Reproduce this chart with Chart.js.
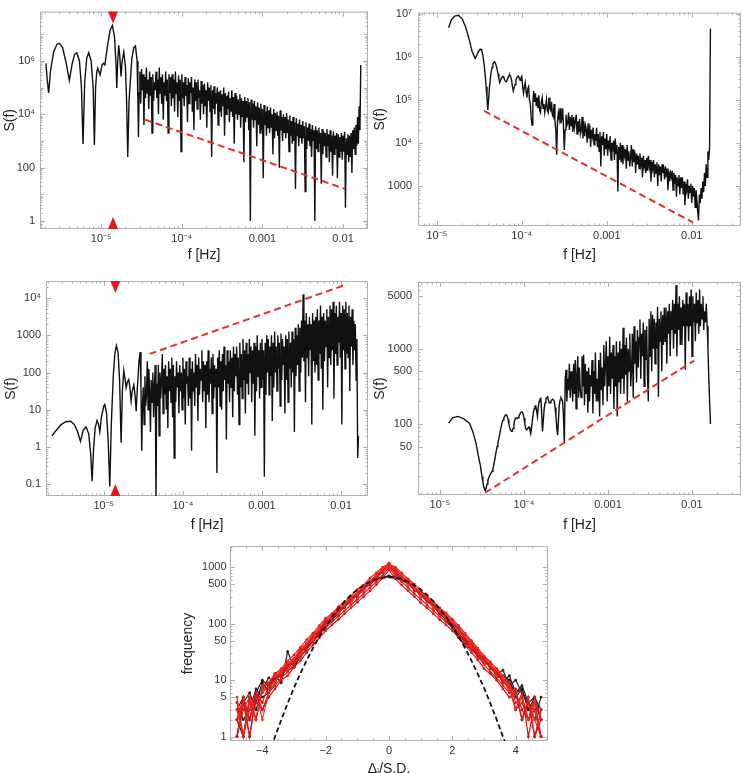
<!DOCTYPE html>
<html lang="en">
<head>
  <meta charset="UTF-8" />
  <title>Power spectra and increment distribution</title>
  <script src="https://cdn.jsdelivr.net/npm/chart.js"></script>
  <style>
    body { margin: 0; background: #fff; width: 743px; height: 773px; overflow: hidden; position: relative; }
    canvas { position: absolute; }
  </style>
</head>
<body>
  <canvas id="c1" width="372" height="268" style="left:0;top:0"></canvas>
  <canvas id="c2" width="371" height="268" style="left:372px;top:0"></canvas>
  <canvas id="c3" width="372" height="268" style="left:0;top:268px"></canvas>
  <canvas id="c4" width="371" height="268" style="left:372px;top:268px"></canvas>
  <canvas id="c5" width="380" height="245" style="left:180px;top:536px"></canvas>

  <script>
    // ---- periodogram data (log10 values) ----
    // shared frequency grid for the dense part of every spectrum (log10 f)
    const gridLogF = [
      -4.52,-4.51,-4.50,-4.49,-4.48,-4.47,-4.46,-4.45,-4.44,-4.43,
      -4.42,-4.41,-4.40,-4.39,-4.38,-4.37,-4.36,-4.35,-4.34,-4.33,
      -4.32,-4.31,-4.30,-4.29,-4.28,-4.27,-4.26,-4.25,-4.24,-4.23,
      -4.22,-4.21,-4.20,-4.19,-4.18,-4.17,-4.16,-4.15,-4.14,-4.13,
      -4.12,-4.11,-4.10,-4.09,-4.08,-4.07,-4.06,-4.05,-4.04,-4.03,
      -4.02,-4.01,-4.00,-3.99,-3.98,-3.97,-3.96,-3.95,-3.94,-3.93,
      -3.92,-3.91,-3.90,-3.89,-3.88,-3.87,-3.86,-3.85,-3.84,-3.83,
      -3.82,-3.81,-3.80,-3.79,-3.78,-3.77,-3.76,-3.75,-3.74,-3.73,
      -3.72,-3.71,-3.70,-3.69,-3.68,-3.67,-3.66,-3.65,-3.64,-3.63,
      -3.62,-3.61,-3.60,-3.59,-3.58,-3.57,-3.56,-3.55,-3.54,-3.53,
      -3.52,-3.51,-3.50,-3.49,-3.48,-3.47,-3.46,-3.45,-3.44,-3.43,
      -3.42,-3.41,-3.40,-3.39,-3.38,-3.37,-3.36,-3.35,-3.34,-3.33,
      -3.32,-3.31,-3.30,-3.29,-3.28,-3.27,-3.26,-3.25,-3.24,-3.23,
      -3.22,-3.21,-3.20,-3.19,-3.18,-3.17,-3.16,-3.15,-3.14,-3.13,
      -3.12,-3.11,-3.10,-3.09,-3.08,-3.07,-3.06,-3.05,-3.04,-3.03,
      -3.02,-3.01,-3.00,-2.99,-2.98,-2.97,-2.96,-2.95,-2.94,-2.93,
      -2.92,-2.91,-2.90,-2.89,-2.88,-2.87,-2.86,-2.85,-2.84,-2.83,
      -2.82,-2.81,-2.80,-2.79,-2.78,-2.77,-2.76,-2.75,-2.74,-2.73,
      -2.72,-2.71,-2.70,-2.69,-2.68,-2.67,-2.66,-2.65,-2.64,-2.63,
      -2.62,-2.61,-2.60,-2.59,-2.58,-2.57,-2.56,-2.55,-2.54,-2.53,
      -2.52,-2.51,-2.50,-2.49,-2.48,-2.47,-2.46,-2.45,-2.44,-2.43,
      -2.42,-2.41,-2.40,-2.39,-2.38,-2.37,-2.36,-2.35,-2.34,-2.33,
      -2.32,-2.31,-2.30,-2.29,-2.28,-2.27,-2.26,-2.25,-2.24,-2.23,
      -2.22,-2.21,-2.20,-2.19,-2.18,-2.17,-2.16,-2.15,-2.14,-2.13,
      -2.12,-2.11,-2.10,-2.09,-2.08,-2.07,-2.06,-2.05,-2.04,-2.03,
      -2.02,-2.01,-2.00,-1.99,-1.98,-1.97,-1.96,-1.95,-1.94,-1.93,
      -1.92,-1.91,-1.90,-1.89,-1.88,-1.87,-1.86,-1.85,-1.84,-1.83,
      -1.82,-1.81,-1.80,-1.79,-1.78
    ];

    // panel 1 (top left)
    const p1HeadLogF = [
      -5.686,-5.67,-5.652,-5.63,-5.59,-5.55,-5.519,-5.48,-5.44,-5.395,
      -5.36,-5.33,-5.304,-5.27,-5.245,-5.226,-5.205,-5.18,-5.155,-5.125,
      -5.10,-5.085,-5.07,-5.055,-5.043,-5.015,-4.99,-4.973,-4.955,-4.92,
      -4.89,-4.861,-4.835,-4.815,-4.807,-4.795,-4.783,-4.77,-4.754,-4.74,
      -4.72,-4.70,-4.685,-4.671,-4.655,-4.62,-4.595,-4.575,-4.555,-4.545,
      -4.538,-4.53
    ];
    const p1HeadLogS = [
      5.91,5.3,4.80,5.6,6.35,6.62,6.66,6.5,6.0,5.27,
      5.9,6.25,6.31,6.0,5.0,2.89,5.2,6.1,6.31,6.0,
      5.0,2.85,5.0,5.6,5.73,5.48,5.85,5.91,5.85,6.6,
      7.15,7.33,6.9,5.8,4.99,6.0,6.59,6.2,5.42,6.0,
      6.34,5.8,4.5,2.40,4.5,6.1,6.5,6.56,6.0,4.5,
      3.14,4.8
    ];
    const p1TailLogS = [
      5.6,4.4,5.7,4.9,5.5,3.6,5.4,4.6,5.75,4.8,
      5.3,4.2,5.6,4.7,5.4,3.3,5.5,4.5,5.2,4.9,
      5.6,4.6,5.3,4.0,5.75,4.8,5.4,4.4,5.5,3.8,
      5.2,4.7,5.6,4.5,5.3,3.3,5.5,4.8,5.4,4.3,
      5.5,4.6,5.3,4.1,5.6,4.8,5.2,3.9,5.45,4.5,
      5.3,2.6,5.5,4.6,5.2,4.3,5.4,4.7,5.1,3.7,
      5.35,4.4,5.2,4.8,5.4,4.1,5.0,3.4,5.3,4.5,
      5.2,4.2,5.3,4.6,4.9,3.8,5.25,4.4,5.1,4.0,
      5.15,4.3,4.9,3.5,5.2,4.5,5.0,4.1,5.1,2.4,
      4.9,4.2,5.05,4.0,4.8,4.4,5.0,3.6,4.85,4.1,
      4.9,3.9,4.75,4.3,5.0,3.2,4.8,4.0,4.7,4.2,
      4.85,3.7,4.6,4.1,4.9,3.9,4.65,2.9,4.8,4.0,
      4.7,3.8,4.55,4.0,4.75,3.5,4.6,3.9,4.5,2.2,
      4.65,3.7,4.5,3.9,4.6,3.4,4.45,0.0,4.55,3.8,
      4.4,3.5,4.5,3.8,4.3,2.8,4.45,3.6,4.25,3.3,
      4.4,3.4,4.2,1.6,4.35,3.6,4.1,3.2,4.3,3.5,
      4.15,3.3,4.25,3.5,4.0,2.5,4.2,3.1,4.05,3.4,
      4.1,3.2,3.95,2.0,4.15,3.4,3.9,3.0,4.0,3.3,
      3.9,3.1,4.05,3.3,3.8,2.6,3.95,3.2,3.75,2.9,
      3.9,3.0,3.7,1.2,3.85,3.2,3.65,2.8,3.8,3.1,
      3.6,2.9,3.75,3.1,3.55,1.1,3.7,2.7,3.5,3.0,
      3.65,2.8,3.45,2.4,3.6,3.0,3.4,0.0,3.55,2.7,
      3.4,2.6,3.5,2.9,3.3,1.4,3.45,2.5,3.35,2.8,
      3.3,2.4,3.45,2.8,3.25,2.2,3.4,2.6,3.2,1.7,
      3.35,2.5,3.2,2.7,3.3,1.6,3.25,2.4,3.15,2.6,
      3.3,2.3,3.2,2.6,3.35,0.5,3.1,2.5,3.25,2.2,
      3.2,2.4,3.3,1.8,3.4,2.7,3.5,2.5,3.6,2.8,
      3.9,2.9,4.3,3.4,5.85
    ];
    const p1FitF = [3.5e-5, 0.0106];
    const p1FitS = [6300, 16];

    // panel 2 (top right)
    const p2HeadLogF = [-4.862,-4.83,-4.79,-4.745,-4.70,-4.66,-4.62,-4.585,-4.549];
    const p2HeadLogS = [6.67,6.85,6.94,6.96,6.87,6.68,6.4,6.12,5.96];
    const p2TailLogS = [
      6.07,6.12,6.15,6.17,6.17,6.12,6.05,5.92,5.75,5.55,
      5.3,5.05,4.76,5.05,5.3,5.5,5.65,5.75,5.83,5.87,
      5.88,5.84,5.78,5.7,5.6,5.5,5.4,5.45,5.5,5.53,
      5.54,5.5,5.45,5.42,5.42,5.47,5.52,5.56,5.57,5.52,
      5.45,5.3,5.2,5.28,5.35,5.44,5.5,5.54,5.55,5.5,
      5.45,5.5,5.54,5.3,5.15,5.3,5.4,5.2,5.05,5.25,
      5.3,5.0,4.9,4.6,4.41,4.9,5.2,4.95,5.15,4.85,
      5.05,4.8,5.1,4.75,4.7,4.95,5.05,4.8,4.9,4.7,
      4.85,5.0,4.75,4.7,5.05,4.8,4.75,4.95,4.65,4.6,
      4.9,4.5,4.3,3.72,4.5,4.7,4.55,4.8,4.45,4.55,
      4.8,4.4,3.83,4.3,4.65,4.4,4.45,4.7,4.3,4.6,
      4.4,4.65,4.25,4.6,4.35,4.5,4.65,4.2,4.5,4.25,
      4.55,4.2,4.3,4.6,4.1,4.5,4.15,4.4,4.3,4.0,
      4.45,4.1,4.4,3.9,4.3,4.15,4.35,3.95,4.2,4.05,
      4.35,3.9,4.2,3.8,4.25,3.45,4.15,3.95,4.25,3.7,
      4.1,3.85,4.2,3.7,4.05,3.9,4.15,3.6,4.0,3.8,
      4.05,3.6,4.1,3.75,3.95,2.87,3.9,3.6,4.0,3.55,
      3.95,3.5,3.9,3.7,3.85,3.4,3.95,3.6,3.8,3.45,
      3.65,3.95,3.45,3.85,3.55,3.8,3.3,3.75,3.5,3.7,
      3.4,3.75,3.5,3.65,3.2,3.7,3.45,3.6,3.3,3.65,
      3.35,3.7,3.45,3.6,3.1,3.55,3.4,3.6,3.2,3.5,
      3.3,3.55,3.0,3.5,3.25,3.45,3.1,3.5,3.3,3.4,
      3.15,3.45,3.2,3.4,2.9,3.35,3.1,3.3,3.2,3.35,
      2.9,3.3,3.05,3.25,2.75,3.2,3.0,3.25,2.8,3.2,
      2.95,3.2,2.8,3.1,2.55,3.05,2.9,3.15,2.7,3.0,
      2.85,3.05,2.6,3.0,2.75,2.95,2.5,2.9,2.7,2.4,
      2.2,2.8,2.6,2.95,2.7,3.1,2.85,3.3,3.0,3.5,
      3.2,3.8,3.6,3.9,6.65
    ];
    const p2FitF = [3.6e-5, 0.0104];
    const p2FitS = [5.5e4, 141];

    // panel 3 (middle left)
    const p3HeadLogF = [
      -5.654,-5.60,-5.54,-5.48,-5.42,-5.37,-5.33,-5.295,-5.26,-5.224,
      -5.19,-5.165,-5.148,-5.13,-5.11,-5.085,-5.065,-5.05,-5.03,-5.00,
      -4.987,-4.965,-4.945,-4.924,-4.905,-4.88,-4.86,-4.84,-4.82,-4.80,
      -4.781,-4.765,-4.747,-4.73,-4.718,-4.70,-4.684,-4.67,-4.654,-4.64,
      -4.62,-4.605,-4.59,-4.575,-4.555,-4.54,-4.53
    ];
    const p3HeadLogS = [
      0.30,0.45,0.60,0.68,0.69,0.6,0.4,0.15,0.45,0.54,
      0.35,-0.2,-0.92,-0.1,0.5,0.71,0.6,0.40,0.8,1.1,
      1.14,0.9,0.2,-1.06,0.6,1.9,2.5,2.72,2.55,1.8,
      0.11,1.5,2.05,1.8,1.59,1.75,1.81,1.6,1.23,1.5,
      1.67,1.4,0.96,1.6,2.3,2.55,1.6
    ];
    const p3TailLogS = [
      -0.1,1.2,1.6,0.6,1.9,1.1,1.4,2.3,1.0,2.1,
      1.5,0.4,1.8,1.2,2.0,0.8,1.6,2.2,-1.5,1.7,
      1.1,2.2,0.3,2.0,1.3,1.8,2.5,0.9,2.1,1.4,
      2.2,1.0,1.9,0.5,2.3,1.5,2.1,1.2,2.4,0.8,
      2.2,-0.3,1.9,1.2,2.3,1.6,2.0,0.9,2.2,1.5,
      2.0,1.0,2.4,1.3,2.1,0.6,2.3,1.7,1.9,1.1,
      2.4,1.3,2.1,-0.1,2.3,1.5,2.0,1.1,2.5,1.6,
      2.2,0.7,2.4,1.4,2.1,1.8,2.6,1.2,2.3,1.5,
      2.2,0.5,2.3,1.4,2.6,1.2,2.1,1.7,2.4,0.9,
      2.5,1.3,2.2,1.6,2.1,-0.7,2.4,1.6,2.6,1.1,
      2.3,1.0,2.5,1.5,2.7,1.8,2.2,0.2,2.6,1.7,
      2.3,1.2,2.6,1.6,2.4,0.8,2.7,1.5,2.5,1.9,
      2.7,1.4,2.4,0.6,2.8,1.6,2.5,1.3,2.9,1.8,
      2.6,0.9,2.8,1.7,2.5,1.4,2.9,2.0,2.7,1.2,
      2.6,1.7,2.8,0.3,2.7,1.5,3.0,1.9,2.6,1.3,
      2.8,1.6,2.9,1.8,2.6,-0.8,2.8,1.4,3.0,2.0,
      2.9,1.4,2.7,1.9,3.0,0.7,2.8,1.6,3.1,2.0,
      2.7,1.5,3.0,2.1,2.8,1.1,3.05,1.8,2.9,2.2,
      2.7,0.9,3.0,1.8,2.9,1.2,3.1,2.1,2.8,1.6,
      3.1,2.0,2.9,0.4,3.2,1.9,3.0,2.2,3.3,1.5,
      3.2,2.0,3.4,2.4,4.1,2.3,3.4,1.2,3.6,2.4,
      3.3,1.9,3.5,2.6,3.3,0.6,3.6,2.3,3.4,2.0,
      3.5,2.2,3.7,1.8,3.4,2.5,3.8,2.1,3.5,1.0,
      3.6,2.3,3.4,2.7,3.7,1.6,3.5,2.4,3.8,2.2,
      3.7,2.6,3.9,1.3,3.6,2.5,3.8,2.2,3.5,2.8,
      3.9,2.4,3.6,0.6,3.8,2.6,3.7,2.1,3.9,2.5,
      3.6,2.4,3.8,1.5,3.5,2.7,3.7,2.2,3.4,2.6,
      3.3,1.8,2.9,-0.3,0.3
    ];
    const p3FitF = [3.8e-5, 0.0112];
    const p3FitS = [316, 22400];

    // panel 4 (middle right)
    const p4HeadLogF = [-4.897,-4.85,-4.79,-4.72,-4.65,-4.61,-4.571,-4.545];
    const p4HeadLogS = [2.01,2.08,2.10,2.07,2.01,1.9,1.74,1.58];
    const p4TailLogS = [
      1.45,1.37,1.3,1.23,1.17,1.13,1.11,1.15,1.2,1.25,
      1.28,1.31,1.33,1.35,1.37,1.4,1.45,1.51,1.58,1.64,
      1.7,1.75,1.8,1.86,1.92,1.97,2.02,2.05,2.08,2.1,
      2.12,2.12,2.1,2.06,2.0,1.95,1.92,1.9,1.9,1.94,
      2.0,2.05,2.08,2.08,2.07,2.08,2.1,2.13,2.15,2.16,
      2.16,2.13,2.08,2.0,1.94,1.92,1.93,1.95,1.96,1.92,
      1.87,1.95,2.05,2.14,2.2,2.23,2.24,2.18,2.1,2.22,
      2.3,2.33,2.34,2.15,1.9,2.05,2.2,2.28,2.33,2.35,
      2.36,2.32,2.28,2.28,2.3,2.32,2.33,2.32,2.3,2.22,
      2.1,1.95,1.85,2.05,2.25,2.32,2.35,2.33,2.3,2.1,
      1.74,2.59,2.72,2.3,2.6,2.45,2.8,2.35,2.7,2.5,
      2.3,2.8,2.4,2.85,2.2,2.65,2.9,2.35,2.75,2.45,
      2.35,2.9,2.5,2.92,2.25,2.8,2.4,2.7,2.15,2.75,
      2.3,2.65,2.5,2.85,2.14,2.7,2.4,2.95,2.3,2.6,
      2.3,2.85,2.1,2.95,2.45,2.75,2.25,3.05,2.5,2.8,
      3.1,2.3,2.9,2.5,3.16,2.4,2.95,2.6,3.05,2.2,
      2.9,2.5,3.1,2.1,2.95,2.55,3.1,2.4,3.0,2.6,
      3.28,2.4,3.05,2.65,3.15,2.3,3.0,2.7,3.2,2.5,
      2.7,3.2,2.35,3.3,2.8,3.1,2.55,3.25,2.75,3.15,
      3.39,2.6,3.2,2.9,3.35,2.5,3.25,2.85,3.3,2.65,
      2.3,3.4,2.9,3.5,2.7,3.45,3.0,3.4,2.8,3.35,
      3.0,3.56,2.36,3.4,3.1,3.5,2.7,3.45,3.05,3.55,
      3.1,3.55,2.8,3.5,3.2,3.6,2.9,3.5,3.25,3.65,
      3.0,3.6,3.2,3.85,2.9,3.6,3.25,3.7,3.05,3.55,
      3.05,3.65,3.3,3.6,2.72,3.75,3.3,3.6,3.1,3.7,
      3.3,3.79,2.9,3.7,3.35,3.6,3.1,3.75,3.35,3.65,
      3.2,3.79,3.3,3.6,3.4,3.7,3.25,3.5,3.35,3.6,
      3.3,3.0,2.6,2.3,2.0
    ];
    const p4FitF = [3.44e-5, 0.0106];
    const p4FitS = [12.1, 698];

    // red triangles mark this frequency in panels 1 and 3
    const markerF = [1.4e-5];

    // ---- panel 5: increment histograms ----
    const bins = [
      -4.8,-4.6,-4.4,-4.2,-4.0,-3.8,-3.6,-3.4,-3.2,-3.0,-2.8,-2.6,-2.4,-2.2,-2.0,-1.8,-1.6,-1.4,-1.2,-1.0,-0.8,-0.6,-0.4,-0.2,
      0,
      0.2,0.4,0.6,0.8,1.0,1.2,1.4,1.6,1.8,2.0,2.2,2.4,2.6,2.8,3.0,3.2,3.4,3.6,3.8,4.0,4.2,4.4,4.6,4.8
    ];
    const red1 = [4,1,5,2,7,9,13,16,22,28,38,52,68,92,125,150,200,245,310,400,480,640,790,1000, 1130,
      1000,790,620,500,380,310,245,190,155,120,92,68,50,37,27,21,16,12,9,4,5,2,3,1];
    const red2 = [1,4,2,6,3,5,7,10,12,17,22,31,42,56,75,95,118,150,190,240,300,380,490,640, 900,
      620,480,380,300,235,190,150,118,95,75,56,42,31,23,16,13,10,7,5,6,2,4,1,2];
    const red3 = [3,1,4,2,8,9,12,15,20,24,36,45,65,82,118,140,185,225,290,355,460,570,720,930, 1060,
      950,720,590,450,365,285,230,180,145,112,86,62,48,34,26,19,15,11,8,3,5,2,4,1];
    const red4 = [1,5,2,4,3,6,8,11,14,19,25,35,47,63,84,108,135,170,214,270,340,435,550,700, 1000,
      700,550,430,340,270,212,170,135,107,85,63,47,35,26,19,14,11,8,6,7,2,5,1,3];
    const red5 = [2,5,1,6,4,8,11,12,19,20,34,38,63,70,112,118,178,190,285,300,455,480,730,790, 1100,
      900,610,580,380,360,240,225,150,140,95,83,52,46,28,25,16,14,9,8,3,6,1,4,2];
    const red6 = [5,1,3,6,2,6,9,14,15,24,27,45,50,80,90,135,145,215,230,340,370,550,600,880, 980,
      780,690,480,430,295,270,185,170,115,108,68,59,37,32,20,18,12,11,6,6,2,4,2,1];
    const red7 = [1,3,5,2,7,7,10,13,17,22,30,41,55,74,100,126,158,200,251,316,400,510,645,830, 1040,
      830,645,510,400,316,251,200,158,126,100,74,55,41,30,22,17,13,10,7,3,4,2,3,1];
    const red8 = [2,4,1,5,6,8,11,14,18,24,33,44,60,80,108,136,170,216,270,340,430,550,700,895, 1170,
      895,700,550,430,340,270,216,170,136,108,80,60,44,33,24,18,14,11,8,6,3,2,5,2];
    const black1 = [3,5,2,6,10,8,12,9,32,17,26,35,52,62,88,118,150,205,265,340,420,515,600,650, 680,
      650,590,515,425,340,262,205,152,118,85,58,40,36,27,21,18,14,9,12,6,8,4,5,3];
    const black2 = [1,4,6,3,7,11,9,14,15,17,30,37,51,70,94,122,155,212,270,345,430,520,610,660, 700,
      660,600,525,430,350,275,212,160,124,92,68,45,39,30,24,16,13,15,8,10,6,4,2,5];
    const black3 = [2,1,5,4,9,6,13,11,18,22,30,40,55,68,90,125,160,208,272,342,428,525,650,670, 690,
      640,595,520,435,345,270,208,158,120,90,64,52,37,29,23,17,14,10,9,6,7,3,5,2];
    const black4 = [4,2,3,7,5,6,9,15,16,21,29,43,52,72,96,126,162,198,258,330,410,540,720,900, 1150,
      760,590,500,410,330,255,200,150,118,88,65,48,38,31,22,19,11,12,10,5,7,3,4,1];
    // dashed normal reference curve
    const gaussX = [
      -3.8,-3.6,-3.4,-3.2,-3.0,-2.8,-2.6,-2.4,-2.2,-2.0,-1.8,-1.6,-1.4,-1.2,-1.0,-0.8,-0.6,-0.4,-0.2,
      0,
      0.2,0.4,0.6,0.8,1.0,1.2,1.4,1.6,1.8,2.0,2.2,2.4,2.6,2.8,3.0,3.2,3.4,3.6,3.8
    ];
    const gaussY = [
      0.48,1.0,2.0,3.9,7.3,13.1,22.4,37,59,89,131,183,248,321,400,479,551,609,647,
      660,
      647,609,551,479,400,321,248,183,131,89,59,37,22.4,13.1,7.3,3.9,2.0,1.0,0.48
    ];

    // ---- tick values and labels ----
    const freqTicks = [1e-5, 1e-4, 1e-3, 1e-2];
    const freqLabels = ['10⁻⁵', '10⁻⁴', '0.001', '0.01'];
    const p1Ticks = [1, 100, 1e4, 1e6];
    const p1Labels = ['1', '100', '10⁴', '10⁶'];
    const p2Ticks = [1000, 1e4, 1e5, 1e6, 1e7];
    const p2Labels = ['1000', '10⁴', '10⁵', '10⁶', '10⁷'];
    const p3Ticks = [0.1, 1, 10, 100, 1000, 1e4];
    const p3Labels = ['0.1', '1', '10', '100', '1000', '10⁴'];
    const p4Ticks = [50, 100, 500, 1000, 5000];
    const p4Labels = ['50', '100', '500', '1000', '5000'];
    const p5XTicks = [-4, -2, 0, 2, 4];
    const p5XLabels = ['−4', '−2', '0', '2', '4'];
    const p5YTicks = [1, 5, 10, 50, 100, 500, 1000];
    const p5YLabels = ['1', '5', '10', '50', '100', '500', '1000'];

    const FONT = '"Liberation Sans", Arial, sans-serif';
    Chart.defaults.font.family = FONT;

    // tick positions for the inward frame ticks (log: 1..9 per decade, linear: every 0.5)
    function tickMarks(s) {
      const out = [];
      const labelled = s.ticks.map(t => t.value);
      if (s.type === 'logarithmic') {
        const lo = Math.floor(Math.log10(s.min)), hi = Math.ceil(Math.log10(s.max));
        for (let d = lo; d <= hi; d++) {
          for (let m = 1; m < 10; m++) {
            const v = m * Math.pow(10, d);
            if (v < s.min || v > s.max) continue;
            out.push([v, labelled.some(l => Math.abs(l / v - 1) < 1e-6) ? 5 : (m === 1 ? 4 : 2.5)]);
          }
        }
      } else {
        for (let v = Math.ceil(s.min * 2) / 2; v <= s.max; v += 0.5) {
          out.push([v, labelled.includes(v) ? 5 : 2.5]);
        }
      }
      return out;
    }

    // Mathematica-like frame: light box with ticks pointing inward on all four sides
    const frameTicks = {
      id: 'frameTicks',
      beforeDatasetsDraw(chart) {
        const { ctx, chartArea: a, scales } = chart;
        ctx.save();
        ctx.strokeStyle = '#b0b0b0';
        ctx.lineWidth = 1;
        ctx.strokeRect(a.left + 0.5, a.top + 0.5, a.right - a.left - 1, a.bottom - a.top - 1);
        ctx.beginPath();
        for (const s of [scales.x, scales.y]) {
          for (const [v, len] of tickMarks(s)) {
            const p = Math.round(s.getPixelForValue(v)) + 0.5;
            if (s.isHorizontal()) {
              if (p < a.left || p > a.right) continue;
              ctx.moveTo(p, a.bottom); ctx.lineTo(p, a.bottom - len);
              ctx.moveTo(p, a.top); ctx.lineTo(p, a.top + len);
            } else {
              if (p < a.top || p > a.bottom) continue;
              ctx.moveTo(a.left, p); ctx.lineTo(a.left + len, p);
              ctx.moveTo(a.right, p); ctx.lineTo(a.right - len, p);
            }
          }
        }
        ctx.stroke();
        ctx.restore();
      }
    };

    function triangleMarks(freqs) {
      return {
        id: 'triangleMarks',
        afterDatasetsDraw(chart) {
          const { ctx, chartArea: a, scales: { x } } = chart;
          ctx.save();
          ctx.fillStyle = '#e5161c';
          freqs.forEach(f => {
            const p = x.getPixelForValue(f);
            ctx.beginPath();
            ctx.moveTo(p - 5, a.top); ctx.lineTo(p + 5, a.top); ctx.lineTo(p, a.top + 12);
            ctx.closePath(); ctx.fill();
            ctx.beginPath();
            ctx.moveTo(p - 5, a.bottom); ctx.lineTo(p + 5, a.bottom); ctx.lineTo(p, a.bottom - 12);
            ctx.closePath(); ctx.fill();
          });
          ctx.restore();
        }
      };
    }

    // x title of the histogram panel with a real subscript i
    const deltaTitle = {
      id: 'deltaTitle',
      afterDraw(chart) {
        const { ctx, chartArea: a } = chart;
        const parts = [['Δ', 14, 0], ['i', 10, 4], ['/S.D.', 14, 0]];
        ctx.save();
        ctx.fillStyle = '#222';
        ctx.textBaseline = 'middle';
        let w = 0;
        parts.forEach(([t, s]) => { ctx.font = s + 'px ' + FONT; w += ctx.measureText(t).width; });
        let x = (a.left + a.right) / 2 - w / 2;
        parts.forEach(([t, s, dy]) => {
          ctx.font = s + 'px ' + FONT;
          ctx.fillText(t, x, 233 + dy);
          x += ctx.measureText(t).width;
        });
        ctx.restore();
      }
    };

    function axis(o) {
      return {
        type: o.type || 'logarithmic',
        min: o.min,
        max: o.max,
        bounds: 'data',
        grid: { display: false, drawTicks: false },
        border: { display: false },
        afterBuildTicks: s => { s.ticks = o.ticks.map(v => ({ value: v })); },
        afterFit: s => { if (s.isHorizontal()) s.height = o.size; else s.width = o.size; },
        ticks: {
          autoSkip: false, maxRotation: 0, minRotation: 0, padding: o.pad,
          color: '#333', font: { family: FONT, size: 11 },
          callback: (v, i) => o.labels[i]
        },
        title: {
          display: !!o.title, text: o.title, color: '#222',
          font: { family: FONT, size: 14 },
          padding: { top: o.titlePad, bottom: o.titlePad }
        }
      };
    }

    function baseOptions(pad, x, y) {
      return {
        responsive: false,
        animation: false,
        devicePixelRatio: 1,
        events: [],
        layout: { padding: pad },
        plugins: { legend: { display: false }, tooltip: { enabled: false } },
        scales: { x: axis(x), y: axis(y) }
      };
    }

    function spectrum(id, p) {
      const curve = p.headF.map((f, i) => ({ x: 10 ** f, y: 10 ** p.headS[i] }))
        .concat(gridLogF.map((f, i) => ({ x: 10 ** f, y: 10 ** p.tailS[i] })));
      const fit = p.fitF.map((f, i) => ({ x: f, y: p.fitS[i] }));
      new Chart(document.getElementById(id), {
        type: 'scatter',
        data: {
          datasets: [
            { data: fit, showLine: true, borderColor: '#e0312c', borderWidth: 2, borderDash: [7, 4], pointRadius: 0 },
            { data: curve, showLine: true, borderColor: '#111', borderWidth: 1.4, pointRadius: 0 }
          ]
        },
        options: baseOptions(p.pad,
          { min: p.xMin, max: p.xMax, ticks: freqTicks, labels: freqLabels, size: p.xH, pad: 3, title: 'f [Hz]', titlePad: p.xTitlePad },
          { min: p.yMin, max: p.yMax, ticks: p.yTicks, labels: p.yLabels, size: p.yW, pad: p.yPad, title: 'S(f)', titlePad: p.yTitlePad }),
        plugins: p.marks ? [frameTicks, triangleMarks(p.marks)] : [frameTicks]
      });
    }

    spectrum('c1', {
      headF: p1HeadLogF, headS: p1HeadLogS, tailS: p1TailLogS, fitF: p1FitF, fitS: p1FitS, marks: markerF,
      xMin: 1.74e-6, xMax: 0.0204, yMin: 0.5, yMax: 7.1e7, yTicks: p1Ticks, yLabels: p1Labels,
      pad: { top: 10, right: 4, left: 0, bottom: 0 }, yW: 40, xH: 39, yPad: 5, xTitlePad: 4, yTitlePad: 2
    });
    spectrum('c2', {
      headF: p2HeadLogF, headS: p2HeadLogS, tailS: p2TailLogS, fitF: p2FitF, fitS: p2FitS,
      xMin: 6.0e-6, xMax: 0.038, yMin: 117, yMax: 1.05e7, yTicks: p2Ticks, yLabels: p2Labels,
      pad: { top: 12, right: 2, left: 0, bottom: 0 }, yW: 46, xH: 42, yPad: 6, xTitlePad: 4.6, yTitlePad: 0
    });
    spectrum('c3', {
      headF: p3HeadLogF, headS: p3HeadLogS, tailS: p3TailLogS, fitF: p3FitF, fitS: p3FitS, marks: markerF,
      xMin: 1.86e-6, xMax: 0.0219, yMin: 0.048, yMax: 2.88e4, yTicks: p3Ticks, yLabels: p3Labels,
      pad: { top: 13, right: 4, left: 0, bottom: 0 }, yW: 46, xH: 40, yPad: 5, xTitlePad: 2.6, yTitlePad: 2.6
    });
    spectrum('c4', {
      headF: p4HeadLogF, headS: p4HeadLogS, tailS: p4TailLogS, fitF: p4FitF, fitS: p4FitS,
      xMin: 5.47e-6, xMax: 0.0383, yMin: 11.3, yMax: 7760, yTicks: p4Ticks, yLabels: p4Labels,
      pad: { top: 14, right: 2, left: 0, bottom: 0 }, yW: 46, xH: 41, yPad: 6, xTitlePad: 2.6, yTitlePad: 0
    });

    // histogram panel
    const pairs = (xs, ys) => xs.map((x, i) => ({ x, y: ys[i] }));
    const histSet = (ys, color) => ({
      data: pairs(bins, ys), showLine: true, borderColor: color, borderWidth: 1.2,
      pointRadius: 1.4, pointBorderWidth: 0, pointBackgroundColor: color
    });
    new Chart(document.getElementById('c5'), {
      type: 'scatter',
      data: {
        datasets: [
          { data: pairs(gaussX, gaussY), showLine: true, borderColor: '#111', borderWidth: 1.8, borderDash: [5, 3], pointRadius: 0 },
          histSet(red1, '#e8201c'),
          histSet(red2, '#d9161a'),
          histSet(red3, '#ee2a22'),
          histSet(red4, '#e31b1b'),
          histSet(red5, '#cf1515'),
          histSet(red6, '#f03228'),
          histSet(red7, '#e42420'),
          histSet(red8, '#d81c18'),
          histSet(black1, '#1c1c1c'),
          histSet(black2, '#2a2a2a'),
          histSet(black3, '#141414'),
          histSet(black4, '#222')
        ]
      },
      options: baseOptions({ top: 6, right: 12, left: 0, bottom: 0 },
        { type: 'linear', min: -5.02, max: 5.02, ticks: p5XTicks, labels: p5XLabels, size: 40, pad: 3, title: '', titlePad: 0 },
        { min: 0.84, max: 2350, ticks: p5YTicks, labels: p5YLabels, size: 50, pad: 3.5, title: 'frequency', titlePad: 0 }),
      plugins: [frameTicks, deltaTitle]
    });
  </script>
</body>
</html>
